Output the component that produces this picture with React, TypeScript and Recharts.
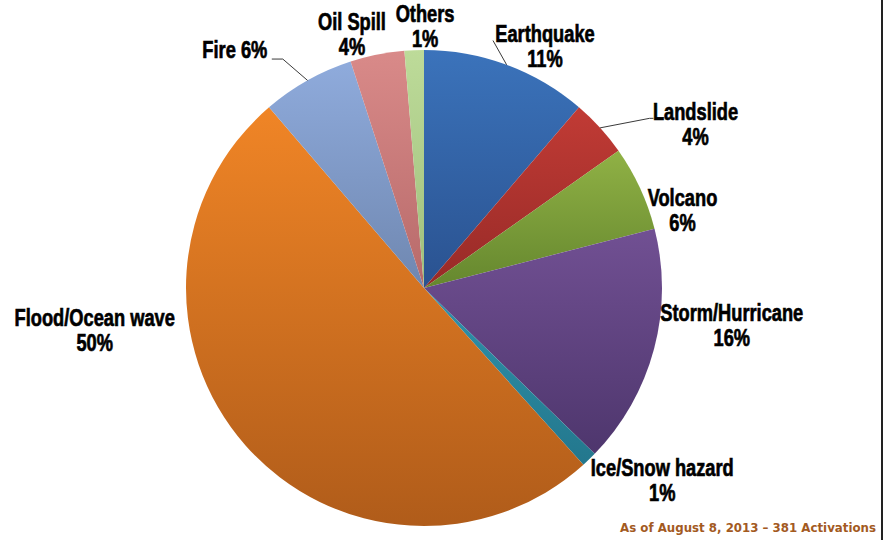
import React from 'react';
import { PieChart, Pie, Cell } from 'recharts';

// activations by disaster type (of 381)
const categories = [
  'Earthquake',
  'Landslide',
  'Volcano',
  'Storm/Hurricane',
  'Ice/Snow hazard',
  'Flood/Ocean wave',
  'Fire',
  'Oil Spill',
  'Others',
];
const activations = [43, 15, 22, 62, 4, 192, 24, 14, 5];
const footnote = 'As of August 8, 2013 \u2013 381 Activations';

// gradient top / bottom per slice
const topColors = ['#3b73bb', '#c13b35', '#90b145', '#715093', '#2f92aa', '#f08526', '#8fabdc', '#d98a89', '#bddb99'];
const bottomColors = ['#2a5290', '#972a27', '#65872e', '#4e366d', '#23778d', '#b05c1a', '#6f87b0', '#b76a6a', '#9fbf7c'];

const data = categories.map((name, i) => ({ name, value: activations[i] }));

// label placement: angular shift (clockwise deg) and distance from centre
const labelLayout: Record<string, { shift: number; dist: number; single?: boolean; leader?: number[][] }> = {
  Earthquake: { shift: 6.2, dist: 271, leader: [[-52, -5]] },
  Landslide: { shift: 11.2, dist: 317, leader: [[-46, -6], [-42, -6]] },
  Volcano: { shift: 8, dist: 270 },
  'Storm/Hurricane': { shift: -8, dist: 310 },
  'Ice/Snow hazard': { shift: -7.2, dist: 306 },
  'Flood/Ocean wave': { shift: 34, dist: 332 },
  Fire: { shift: -9.2, dist: 304, single: true, leader: [[48, 9], [37, 9]] },
  'Oil Spill': { shift: -4.5, dist: 264 },
  Others: { shift: 2.6, dist: 262 },
};

const RAD = Math.PI / 180;
const labelFont = "'Liberation Sans', Arial, sans-serif";

// narrow, slightly tall bold text, like the original's condensed face
const LabelText = ({ x, y, text }: { x: number; y: number; text: string }) => (
  <text
    transform={`translate(${x},${y}) scale(0.87,1.13)`}
    textAnchor="middle"
    fontFamily={labelFont}
    fontWeight="bold"
    fontSize={21}
    fill="#000"
    stroke="#000"
    strokeWidth={0.6}
  >
    {text}
  </text>
);

const renderLabel = (props: any) => {
  const { cx, cy, midAngle, outerRadius, percent, index } = props;
  const name = categories[index];
  const lay = labelLayout[name];
  const ang = midAngle - lay.shift;
  const x = cx + lay.dist * Math.cos(-ang * RAD);
  const y = cy + lay.dist * Math.sin(-ang * RAD);
  const pct = `${Math.round(percent * 100)}%`;

  let leader = null;
  if (lay.leader) {
    const ex = cx + outerRadius * Math.cos(-midAngle * RAD);
    const ey = cy + outerRadius * Math.sin(-midAngle * RAD);
    const pts = [[ex, ey], ...lay.leader.map(([dx, dy]) => [x + dx, y + dy])];
    leader = (
      <polyline
        points={pts.map((p) => p.join(',')).join(' ')}
        fill="none"
        stroke="#3a3a3a"
        strokeWidth={1}
      />
    );
  }

  return (
    <g>
      {leader}
      {lay.single ? (
        <LabelText x={x} y={y + 8} text={`${name} ${pct}`} />
      ) : (
        <>
          <LabelText x={x} y={y - 4} text={name} />
          <LabelText x={x} y={y + 21} text={pct} />
        </>
      )}
    </g>
  );
};

export default function App() {
  return (
    <div style={{ position: 'absolute', left: 0, top: 0, width: 884, height: 540, background: '#fff' }}>
      <PieChart width={884} height={540} margin={{ top: 0, right: 0, bottom: 0, left: 0 }}>
        <defs>
          {categories.map((c, i) => (
            <linearGradient key={c} id={`slice${i}`} x1="0" y1="0" x2="0" y2="1">
              <stop offset="0%" stopColor={topColors[i]} />
              <stop offset="100%" stopColor={bottomColors[i]} />
            </linearGradient>
          ))}
        </defs>
        <Pie
          data={data}
          dataKey="value"
          nameKey="name"
          cx={424}
          cy={288}
          outerRadius={238}
          startAngle={90}
          endAngle={-270}
          stroke="none"
          label={renderLabel}
          labelLine={false}
          isAnimationActive={false}
        >
          {data.map((d, i) => (
            <Cell key={d.name} fill={`url(#slice${i})`} />
          ))}
        </Pie>
      </PieChart>
      <div
        style={{
          position: 'absolute',
          right: 8,
          top: 521,
          fontFamily: "'DejaVu Sans', Verdana, sans-serif",
          fontWeight: 'bold',
          fontSize: 11.8,
          color: '#a35a1f',
          whiteSpace: 'nowrap',
        }}
      >
        {footnote}
      </div>
      <div style={{ position: 'absolute', left: 881, top: 0, width: 1.5, height: 540, background: '#222' }} />
    </div>
  );
}
